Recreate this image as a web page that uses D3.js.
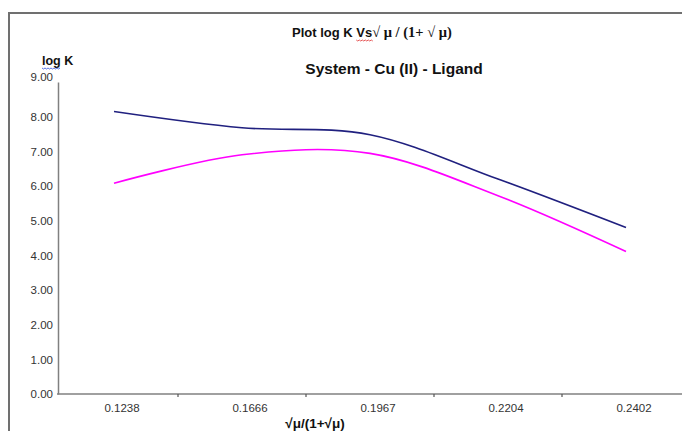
<!DOCTYPE html>
<html>
<head>
<meta charset="utf-8">
<script src="https://cdn.jsdelivr.net/npm/d3@7"></script>
<style>
  html, body { margin: 0; padding: 0; background: #fff; }
  svg { display: block; }
</style>
</head>
<body>
<svg id="chart" width="682" height="431"></svg>
<script>
const categories = ["0.1238", "0.1666", "0.1967", "0.2204", "0.2402"];
const seriesBlue = [8.15, 7.68, 7.48, 6.20, 4.80];
const seriesMagenta = [6.08, 6.90, 6.94, 5.72, 4.11];
const yTicks = [0, 1, 2, 3, 4, 5, 6, 7, 8, 9];

const svg = d3.select("#chart");

// outer frame (extends past right/bottom edges)
svg.append("rect")
  .attr("x", 9).attr("y", 13)
  .attr("width", 700).attr("height", 440)
  .attr("fill", "#fff")
  .attr("stroke", "#707070").attr("stroke-width", 2);

const x = d3.scaleBand().domain(categories).range([50, 690]).padding(0);
const y = d3.scaleLinear().domain([0, 9]).range([394, 82]);
const xc = d => x(d) + x.bandwidth() / 2;

const axisColor = "#808080";
const font = "'Liberation Sans', Arial, sans-serif";

// y axis
const yAxis = d3.axisLeft(y).tickValues(yTicks).tickSize(0).tickPadding(5)
  .tickFormat(d3.format(".2f"));
const gy = svg.append("g").attr("transform", "translate(58,0)").call(yAxis);
gy.select(".domain").attr("stroke", axisColor).attr("stroke-width", 1.5);
gy.selectAll("text")
  .attr("font-family", font).attr("font-size", 11.5).attr("fill", "#333");
gy.selectAll(".tick").filter(d => d === 9).select("text").attr("dy", "-0.1em");

// x axis
const xAxis = d3.axisBottom(x).tickSize(0).tickPadding(10);
const gx = svg.append("g").attr("transform", "translate(0,394)").call(xAxis);
gx.select(".domain").remove();
gx.append("line").attr("x1", 57).attr("x2", 690).attr("y1", 0).attr("y2", 0)
  .attr("stroke", axisColor).attr("stroke-width", 1.5);
gx.selectAll(".tick text")
  .attr("font-family", font).attr("font-size", 11.5).attr("fill", "#333")
  .attr("dx", 8);
// tick marks between categories
gx.selectAll("line.cat-tick")
  .data(categories.slice(1))
  .enter().append("line").attr("class", "cat-tick")
  .attr("x1", d => x(d)).attr("x2", d => x(d))
  .attr("y1", 0).attr("y2", 3)
  .attr("stroke", "#555").attr("stroke-width", 1.2);

// lines
const line = d3.line()
  .x((d, i) => xc(categories[i]))
  .y(d => y(d))
  .curve(d3.curveCardinal.tension(0));

svg.append("path").datum(seriesBlue)
  .attr("d", line).attr("fill", "none")
  .attr("stroke", "#20207f").attr("stroke-width", 1.6);
svg.append("path").datum(seriesMagenta)
  .attr("d", line).attr("fill", "none")
  .attr("stroke", "#ff00ff").attr("stroke-width", 1.6);

// titles
const t1 = svg.append("text")
  .attr("x", 292).attr("y", 37)
  .attr("font-family", font).attr("font-size", 13).attr("font-weight", "bold")
  .attr("fill", "#111");
t1.append("tspan").text("Plot log K ");
t1.append("tspan").attr("id", "vs").text("Vs");
t1.append("tspan").attr("font-family", "'Liberation Serif', serif").attr("font-size", 14.5).text("√ μ / (1+ √ μ)");

svg.append("text")
  .attr("x", 394).attr("y", 74)
  .attr("text-anchor", "middle")
  .attr("font-family", font).attr("font-size", 15.5).attr("font-weight", "bold")
  .attr("fill", "#111")
  .text("System - Cu (II) - Ligand");

svg.append("text")
  .attr("x", 42).attr("y", 65)
  .attr("font-family", font).attr("font-size", 12.5).attr("font-weight", "bold")
  .attr("fill", "#111")
  .text("log K");

svg.append("text")
  .attr("x", 315).attr("y", 428)
  .attr("text-anchor", "middle")
  .attr("font-family", font).attr("font-size", 13.5).attr("font-weight", "bold")
  .attr("fill", "#111")
  .text("√μ/(1+√μ)");

// spell-check wavy underlines
function wavy(x0, x1, yy, color) {
  const pts = [];
  for (let xx = x0, k = 0; xx <= x1; xx += 1.5, k++) pts.push([xx, yy + (k % 2 ? 1 : 0)]);
  svg.append("path").attr("d", d3.line()(pts)).attr("fill", "none")
    .attr("stroke", color).attr("stroke-width", 0.8);
}
wavy(42, 60, 68, "#3050e0");
const vsNode = document.getElementById("vs");
const bb = vsNode.getBBox();
wavy(bb.x, bb.x + bb.width + 2, 40, "#e03030");
</script>
</body>
</html>
